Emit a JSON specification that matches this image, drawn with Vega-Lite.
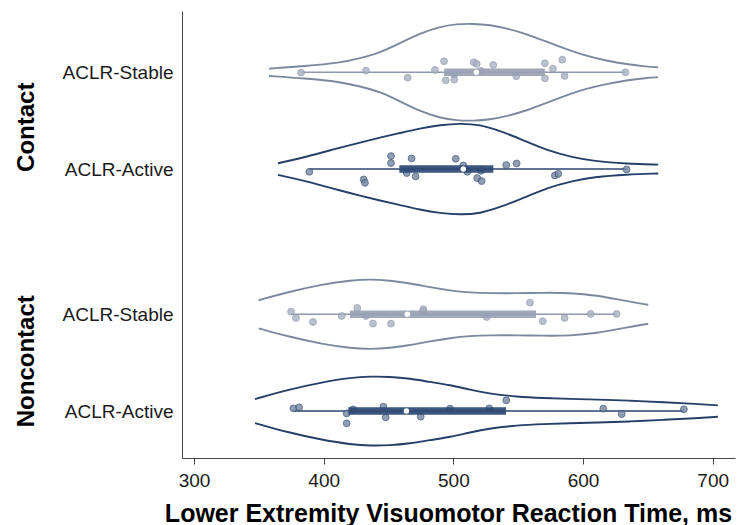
{
  "$schema": "https://vega.github.io/schema/vega-lite/v6.json",
  "width": 553,
  "height": 447,
  "autosize": "none",
  "padding": {"left": 182, "top": 11, "right": 2, "bottom": 67},
  "background": "white",
  "config": {
    "view": {"stroke": null},
    "font": "Liberation Sans",
    "axis": {"labelFont": "Liberation Sans", "titleFont": "Liberation Sans", "grid": false},
    "axisX": {
      "titleFontSize": 25, "titleFontWeight": "bold", "titleColor": "#000000",
      "titleX": 266, "titleY": 63, "titleBaseline": "alphabetic", "titleAlign": "center",
      "labelFontSize": 19, "labelColor": "#1a1a1a", "labelPadding": 7, "labelFlush": false,
      "tickSize": 6, "tickColor": "#444444", "domainColor": "#444444"
    }
  },
  "datasets": {
    "violin": [
      {"grp": "CS", "status": "Stable", "rt": 357.8, "hi": 4.038, "lo": 3.962},
      {"grp": "CS", "status": "Stable", "rt": 385.3, "hi": 4.063, "lo": 3.937},
      {"grp": "CS", "status": "Stable", "rt": 412.6, "hi": 4.098, "lo": 3.902},
      {"grp": "CS", "status": "Stable", "rt": 428, "hi": 4.145, "lo": 3.855},
      {"grp": "CS", "status": "Stable", "rt": 443.4, "hi": 4.202, "lo": 3.798},
      {"grp": "CS", "status": "Stable", "rt": 458.8, "hi": 4.3, "lo": 3.7},
      {"grp": "CS", "status": "Stable", "rt": 474.2, "hi": 4.403, "lo": 3.597},
      {"grp": "CS", "status": "Stable", "rt": 489.6, "hi": 4.471, "lo": 3.529},
      {"grp": "CS", "status": "Stable", "rt": 502.5, "hi": 4.499, "lo": 3.501},
      {"grp": "CS", "status": "Stable", "rt": 515.3, "hi": 4.502, "lo": 3.498},
      {"grp": "CS", "status": "Stable", "rt": 528.2, "hi": 4.489, "lo": 3.511},
      {"grp": "CS", "status": "Stable", "rt": 541, "hi": 4.455, "lo": 3.545},
      {"grp": "CS", "status": "Stable", "rt": 556.4, "hi": 4.396, "lo": 3.604},
      {"grp": "CS", "status": "Stable", "rt": 571.9, "hi": 4.316, "lo": 3.684},
      {"grp": "CS", "status": "Stable", "rt": 587.3, "hi": 4.238, "lo": 3.762},
      {"grp": "CS", "status": "Stable", "rt": 602.7, "hi": 4.168, "lo": 3.832},
      {"grp": "CS", "status": "Stable", "rt": 618.1, "hi": 4.12, "lo": 3.88},
      {"grp": "CS", "status": "Stable", "rt": 633.5, "hi": 4.083, "lo": 3.917},
      {"grp": "CS", "status": "Stable", "rt": 648.9, "hi": 4.058, "lo": 3.942},
      {"grp": "CS", "status": "Stable", "rt": 657.9, "hi": 4.052, "lo": 3.948},
      {"grp": "CA", "status": "Active", "rt": 364.7, "hi": 3.06, "lo": 2.94},
      {"grp": "CA", "status": "Active", "rt": 385.3, "hi": 3.121, "lo": 2.879},
      {"grp": "CA", "status": "Active", "rt": 412.6, "hi": 3.222, "lo": 2.778},
      {"grp": "CA", "status": "Active", "rt": 428, "hi": 3.274, "lo": 2.726},
      {"grp": "CA", "status": "Active", "rt": 443.4, "hi": 3.325, "lo": 2.675},
      {"grp": "CA", "status": "Active", "rt": 458.8, "hi": 3.372, "lo": 2.628},
      {"grp": "CA", "status": "Active", "rt": 474.2, "hi": 3.42, "lo": 2.58},
      {"grp": "CA", "status": "Active", "rt": 489.7, "hi": 3.455, "lo": 2.545},
      {"grp": "CA", "status": "Active", "rt": 505.1, "hi": 3.472, "lo": 2.528},
      {"grp": "CA", "status": "Active", "rt": 520.5, "hi": 3.46, "lo": 2.54},
      {"grp": "CA", "status": "Active", "rt": 535.9, "hi": 3.393, "lo": 2.607},
      {"grp": "CA", "status": "Active", "rt": 551.3, "hi": 3.315, "lo": 2.685},
      {"grp": "CA", "status": "Active", "rt": 572, "hi": 3.193, "lo": 2.807},
      {"grp": "CA", "status": "Active", "rt": 592.4, "hi": 3.121, "lo": 2.879},
      {"grp": "CA", "status": "Active", "rt": 607.9, "hi": 3.083, "lo": 2.917},
      {"grp": "CA", "status": "Active", "rt": 633.6, "hi": 3.055, "lo": 2.945},
      {"grp": "CA", "status": "Active", "rt": 658, "hi": 3.046, "lo": 2.954},
      {"grp": "NS", "status": "Stable", "rt": 349.8, "hi": 1.645, "lo": 1.355},
      {"grp": "NS", "status": "Stable", "rt": 371.7, "hi": 1.727, "lo": 1.273},
      {"grp": "NS", "status": "Stable", "rt": 399.4, "hi": 1.81, "lo": 1.19},
      {"grp": "NS", "status": "Stable", "rt": 421.4, "hi": 1.851, "lo": 1.149},
      {"grp": "NS", "status": "Stable", "rt": 435.7, "hi": 1.862, "lo": 1.138},
      {"grp": "NS", "status": "Stable", "rt": 451.1, "hi": 1.848, "lo": 1.152},
      {"grp": "NS", "status": "Stable", "rt": 466.5, "hi": 1.82, "lo": 1.18},
      {"grp": "NS", "status": "Stable", "rt": 482, "hi": 1.779, "lo": 1.221},
      {"grp": "NS", "status": "Stable", "rt": 497.4, "hi": 1.745, "lo": 1.255},
      {"grp": "NS", "status": "Stable", "rt": 512.8, "hi": 1.724, "lo": 1.276},
      {"grp": "NS", "status": "Stable", "rt": 528.2, "hi": 1.717, "lo": 1.283},
      {"grp": "NS", "status": "Stable", "rt": 548.8, "hi": 1.717, "lo": 1.283},
      {"grp": "NS", "status": "Stable", "rt": 569.3, "hi": 1.722, "lo": 1.278},
      {"grp": "NS", "status": "Stable", "rt": 589.9, "hi": 1.722, "lo": 1.278},
      {"grp": "NS", "status": "Stable", "rt": 610.5, "hi": 1.696, "lo": 1.304},
      {"grp": "NS", "status": "Stable", "rt": 631, "hi": 1.642, "lo": 1.358},
      {"grp": "NS", "status": "Stable", "rt": 650.3, "hi": 1.598, "lo": 1.402},
      {"grp": "NA", "status": "Active", "rt": 347, "hi": 0.624, "lo": 0.376},
      {"grp": "NA", "status": "Active", "rt": 371.8, "hi": 0.719, "lo": 0.281},
      {"grp": "NA", "status": "Active", "rt": 399.4, "hi": 0.8, "lo": 0.2},
      {"grp": "NA", "status": "Active", "rt": 421.4, "hi": 0.846, "lo": 0.154},
      {"grp": "NA", "status": "Active", "rt": 435.7, "hi": 0.858, "lo": 0.142},
      {"grp": "NA", "status": "Active", "rt": 451.1, "hi": 0.855, "lo": 0.145},
      {"grp": "NA", "status": "Active", "rt": 466.5, "hi": 0.836, "lo": 0.164},
      {"grp": "NA", "status": "Active", "rt": 482, "hi": 0.8, "lo": 0.2},
      {"grp": "NA", "status": "Active", "rt": 497.4, "hi": 0.769, "lo": 0.231},
      {"grp": "NA", "status": "Active", "rt": 512.8, "hi": 0.72, "lo": 0.28},
      {"grp": "NA", "status": "Active", "rt": 528.2, "hi": 0.679, "lo": 0.321},
      {"grp": "NA", "status": "Active", "rt": 548.8, "hi": 0.648, "lo": 0.352},
      {"grp": "NA", "status": "Active", "rt": 569.3, "hi": 0.634, "lo": 0.366},
      {"grp": "NA", "status": "Active", "rt": 589.9, "hi": 0.626, "lo": 0.374},
      {"grp": "NA", "status": "Active", "rt": 610.5, "hi": 0.619, "lo": 0.381},
      {"grp": "NA", "status": "Active", "rt": 636.2, "hi": 0.608, "lo": 0.392},
      {"grp": "NA", "status": "Active", "rt": 661.8, "hi": 0.591, "lo": 0.409},
      {"grp": "NA", "status": "Active", "rt": 687.6, "hi": 0.573, "lo": 0.427},
      {"grp": "NA", "status": "Active", "rt": 704, "hi": 0.559, "lo": 0.441}
    ],
    "pts": [
      {"grp": "CS", "status": "Stable", "rt": 382.5, "y": 3.996},
      {"grp": "CS", "status": "Stable", "rt": 432.6, "y": 4.017},
      {"grp": "CS", "status": "Stable", "rt": 464.8, "y": 3.944},
      {"grp": "CS", "status": "Stable", "rt": 485.8, "y": 4.024},
      {"grp": "CS", "status": "Stable", "rt": 492.8, "y": 4.114},
      {"grp": "CS", "status": "Stable", "rt": 494.1, "y": 3.917},
      {"grp": "CS", "status": "Stable", "rt": 500.7, "y": 3.979},
      {"grp": "CS", "status": "Stable", "rt": 500.7, "y": 3.924},
      {"grp": "CS", "status": "Stable", "rt": 515.7, "y": 4.103},
      {"grp": "CS", "status": "Stable", "rt": 518, "y": 4.086},
      {"grp": "CS", "status": "Stable", "rt": 521.3, "y": 4.013},
      {"grp": "CS", "status": "Stable", "rt": 530.8, "y": 4.075},
      {"grp": "CS", "status": "Stable", "rt": 548.5, "y": 3.959},
      {"grp": "CS", "status": "Stable", "rt": 570.6, "y": 4.093},
      {"grp": "CS", "status": "Stable", "rt": 570.6, "y": 3.938},
      {"grp": "CS", "status": "Stable", "rt": 576.8, "y": 4.037},
      {"grp": "CS", "status": "Stable", "rt": 584, "y": 4.13},
      {"grp": "CS", "status": "Stable", "rt": 585.8, "y": 3.962},
      {"grp": "CS", "status": "Stable", "rt": 632.7, "y": 4.0},
      {"grp": "CA", "status": "Active", "rt": 388.9, "y": 2.972},
      {"grp": "CA", "status": "Active", "rt": 430.8, "y": 2.893},
      {"grp": "CA", "status": "Active", "rt": 431.8, "y": 2.858},
      {"grp": "CA", "status": "Active", "rt": 451.9, "y": 3.134},
      {"grp": "CA", "status": "Active", "rt": 451.9, "y": 3.062},
      {"grp": "CA", "status": "Active", "rt": 464, "y": 2.959},
      {"grp": "CA", "status": "Active", "rt": 467.8, "y": 3.11},
      {"grp": "CA", "status": "Active", "rt": 470.9, "y": 2.924},
      {"grp": "CA", "status": "Active", "rt": 501.8, "y": 3.106},
      {"grp": "CA", "status": "Active", "rt": 507.6, "y": 3.037},
      {"grp": "CA", "status": "Active", "rt": 510.7, "y": 2.972},
      {"grp": "CA", "status": "Active", "rt": 518.4, "y": 2.907},
      {"grp": "CA", "status": "Active", "rt": 521.8, "y": 2.876},
      {"grp": "CA", "status": "Active", "rt": 521.3, "y": 2.982},
      {"grp": "CA", "status": "Active", "rt": 540.8, "y": 3.041},
      {"grp": "CA", "status": "Active", "rt": 548.8, "y": 3.058},
      {"grp": "CA", "status": "Active", "rt": 578.3, "y": 2.934},
      {"grp": "CA", "status": "Active", "rt": 580.9, "y": 2.951},
      {"grp": "CA", "status": "Active", "rt": 633.6, "y": 2.996},
      {"grp": "NS", "status": "Stable", "rt": 374.8, "y": 1.527},
      {"grp": "NS", "status": "Stable", "rt": 378.6, "y": 1.462},
      {"grp": "NS", "status": "Stable", "rt": 391.7, "y": 1.42},
      {"grp": "NS", "status": "Stable", "rt": 413.9, "y": 1.482},
      {"grp": "NS", "status": "Stable", "rt": 425.9, "y": 1.565},
      {"grp": "NS", "status": "Stable", "rt": 432.6, "y": 1.482},
      {"grp": "NS", "status": "Stable", "rt": 438, "y": 1.403},
      {"grp": "NS", "status": "Stable", "rt": 451.9, "y": 1.403},
      {"grp": "NS", "status": "Stable", "rt": 476.8, "y": 1.552},
      {"grp": "NS", "status": "Stable", "rt": 476.8, "y": 1.531},
      {"grp": "NS", "status": "Stable", "rt": 525.7, "y": 1.472},
      {"grp": "NS", "status": "Stable", "rt": 559.1, "y": 1.62},
      {"grp": "NS", "status": "Stable", "rt": 568.9, "y": 1.428},
      {"grp": "NS", "status": "Stable", "rt": 585.8, "y": 1.462},
      {"grp": "NS", "status": "Stable", "rt": 605.9, "y": 1.503},
      {"grp": "NS", "status": "Stable", "rt": 625.9, "y": 1.503},
      {"grp": "NA", "status": "Active", "rt": 376.6, "y": 0.528},
      {"grp": "NA", "status": "Active", "rt": 381, "y": 0.538},
      {"grp": "NA", "status": "Active", "rt": 417.7, "y": 0.476},
      {"grp": "NA", "status": "Active", "rt": 417.7, "y": 0.373},
      {"grp": "NA", "status": "Active", "rt": 422.6, "y": 0.518},
      {"grp": "NA", "status": "Active", "rt": 446, "y": 0.545},
      {"grp": "NA", "status": "Active", "rt": 447.8, "y": 0.435},
      {"grp": "NA", "status": "Active", "rt": 474.8, "y": 0.442},
      {"grp": "NA", "status": "Active", "rt": 497.4, "y": 0.525},
      {"grp": "NA", "status": "Active", "rt": 527.7, "y": 0.528},
      {"grp": "NA", "status": "Active", "rt": 540.8, "y": 0.611},
      {"grp": "NA", "status": "Active", "rt": 615.6, "y": 0.525},
      {"grp": "NA", "status": "Active", "rt": 629.8, "y": 0.469},
      {"grp": "NA", "status": "Active", "rt": 677.8, "y": 0.518}
    ],
    "box": [
      {"grp": "CS", "status": "Stable", "pos": 4, "wmin": 382.5, "q1": 492.9, "med": 517.7, "q3": 570.5, "wmax": 632.9},
      {"grp": "CA", "status": "Active", "pos": 3, "wmin": 388.9, "q1": 458.3, "med": 507.6, "q3": 530.8, "wmax": 633.6},
      {"grp": "NS", "status": "Stable", "pos": 1.5, "wmin": 374.8, "q1": 420.3, "med": 464.5, "q3": 563.7, "wmax": 625.9},
      {"grp": "NA", "status": "Active", "pos": 0.5, "wmin": 376.6, "q1": 419, "med": 463.8, "q3": 540.6, "wmax": 677.8}
    ],
    "groups": [
      {"label": "Contact", "pos": 3.437},
      {"label": "Noncontact", "pos": 1.02}
    ]
  },
  "layer": [
    {
      "data": {"name": "violin"},
      "mark": {"type": "line", "interpolate": "basis", "strokeWidth": 1.9},
      "encoding": {
        "x": {"field": "rt", "type": "quantitative", "title": "Lower Extremity Visuomotor Reaction Time, ms",
          "scale": {"domain": [290.7, 717.2], "nice": false, "zero": false},
          "axis": {"values": [300, 400, 500, 600, 700]}},
        "y": {"field": "hi", "type": "quantitative",
          "scale": {"domain": [0.015, 4.633], "nice": false, "zero": false},
          "axis": {"values": [0.5, 1.5, 3, 4],
            "labelExpr": "datum.value == 4 || datum.value == 1.5 ? 'ACLR-Stable' : 'ACLR-Active'",
            "title": null, "ticks": false, "tickSize": 0, "labelFontSize": 19, "labelPadding": 9,
            "labelColor": "#1a1a1a", "domainColor": "#444444", "grid": false, "labelFlush": false, "orient": "left"}},
        "detail": {"field": "grp"},
        "stroke": {"field": "status", "type": "nominal",
          "scale": {"domain": ["Stable", "Active"], "range": ["#7c889e", "#263f69"]}, "legend": null}
      }
    },
    {
      "data": {"name": "violin"},
      "mark": {"type": "line", "interpolate": "basis", "strokeWidth": 1.9},
      "encoding": {
        "x": {"field": "rt", "type": "quantitative", "title": "Lower Extremity Visuomotor Reaction Time, ms",
          "scale": {"domain": [290.7, 717.2], "nice": false, "zero": false},
          "axis": {"values": [300, 400, 500, 600, 700]}},
        "y": {"field": "lo", "type": "quantitative", "scale": {"domain": [0.015, 4.633], "nice": false, "zero": false}, "axis": null},
        "detail": {"field": "grp"},
        "stroke": {"field": "status", "type": "nominal",
          "scale": {"domain": ["Stable", "Active"], "range": ["#7c889e", "#263f69"]}, "legend": null}
      }
    },
    {
      "data": {"name": "box"},
      "mark": {"type": "rule", "strokeWidth": 1.5},
      "encoding": {
        "x": {"field": "wmin", "type": "quantitative", "title": "Lower Extremity Visuomotor Reaction Time, ms",
          "scale": {"domain": [290.7, 717.2], "nice": false, "zero": false},
          "axis": {"values": [300, 400, 500, 600, 700]}},
        "x2": {"field": "wmax"},
        "y": {"field": "pos", "type": "quantitative", "scale": {"domain": [0.015, 4.633], "nice": false, "zero": false}, "axis": null},
        "stroke": {"field": "status", "type": "nominal",
          "scale": {"domain": ["Stable", "Active"], "range": ["#8e99ad", "#2b4571"]}, "legend": null}
      }
    },
    {
      "data": {"name": "pts"},
      "mark": {"type": "circle", "size": 46, "strokeWidth": 1, "opacity": 0.8},
      "encoding": {
        "x": {"field": "rt", "type": "quantitative", "title": "Lower Extremity Visuomotor Reaction Time, ms",
          "scale": {"domain": [290.7, 717.2], "nice": false, "zero": false},
          "axis": {"values": [300, 400, 500, 600, 700]}},
        "y": {"field": "y", "type": "quantitative", "scale": {"domain": [0.015, 4.633], "nice": false, "zero": false}, "axis": null},
        "fill": {"field": "status", "type": "nominal",
          "scale": {"domain": ["Stable", "Active"], "range": ["#a9b2c3", "#7586a2"]}, "legend": null},
        "stroke": {"field": "status", "type": "nominal",
          "scale": {"domain": ["Stable", "Active"], "range": ["#8f9aae", "#3c5378"]}, "legend": null}
      }
    },
    {
      "data": {"name": "box"},
      "mark": {"type": "rule", "strokeWidth": 7.5, "strokeCap": "butt", "opacity": 0.92},
      "encoding": {
        "x": {"field": "q1", "type": "quantitative", "title": "Lower Extremity Visuomotor Reaction Time, ms",
          "scale": {"domain": [290.7, 717.2], "nice": false, "zero": false},
          "axis": {"values": [300, 400, 500, 600, 700]}},
        "x2": {"field": "q3"},
        "y": {"field": "pos", "type": "quantitative", "scale": {"domain": [0.015, 4.633], "nice": false, "zero": false}, "axis": null},
        "stroke": {"field": "status", "type": "nominal",
          "scale": {"domain": ["Stable", "Active"], "range": ["#98a1b3", "#2d4873"]}, "legend": null}
      }
    },
    {
      "data": {"name": "box"},
      "mark": {"type": "circle", "size": 30, "color": "#ffffff", "opacity": 1},
      "encoding": {
        "x": {"field": "med", "type": "quantitative", "title": "Lower Extremity Visuomotor Reaction Time, ms",
          "scale": {"domain": [290.7, 717.2], "nice": false, "zero": false},
          "axis": {"values": [300, 400, 500, 600, 700]}},
        "y": {"field": "pos", "type": "quantitative", "scale": {"domain": [0.015, 4.633], "nice": false, "zero": false}, "axis": null}
      }
    },
    {
      "data": {"name": "groups"},
      "mark": {"type": "point", "opacity": 0},
      "encoding": {
        "y": {"field": "pos", "type": "quantitative",
          "scale": {"domain": [0.015, 4.633], "nice": false, "zero": false},
          "axis": {"orient": "left", "values": [3.437, 1.02],
            "labelExpr": "datum.value > 2 ? 'Contact' : 'Noncontact'",
            "labelAngle": 270, "labelAlign": "center", "labelBaseline": "alphabetic",
            "labelFontSize": 24, "labelFontWeight": "bold", "labelColor": "#000000",
            "ticks": false, "tickSize": 0, "domain": false, "grid": false, "title": null,
            "offset": 145, "labelPadding": 4, "labelOverlap": false, "labelFlush": false}}
      }
    }
  ],
  "resolve": {"scale": {"y": "independent", "stroke": "independent", "fill": "independent"}, "axis": {"y": "independent"}}
}
